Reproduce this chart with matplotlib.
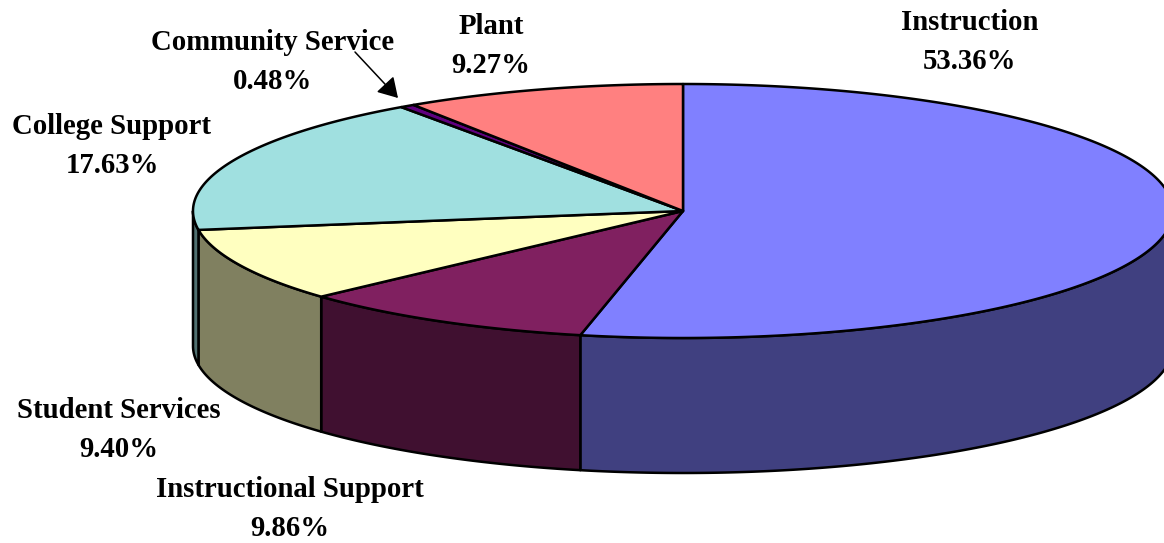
import numpy as np
import matplotlib
matplotlib.use("Agg")
import matplotlib.pyplot as plt

labels = ["Instruction", "Instructional Support", "Student Services",
          "College Support", "Community Service", "Plant"]
values = [53.36, 9.86, 9.40, 17.63, 0.48, 9.27]
top_colors = ["#8080FF", "#802060", "#FFFFC0", "#A0E0E0", "#600080", "#FF8080"]
side_colors = ["#404080", "#401030", "#808060", "#507070", "#300040", "#804040"]
label_pos = [(970, 42), (290, 509), (119, 430), (112, 146), (273, 62), (491, 46)]

CX, CY, RX, RY, DEPTH = 683.0, 211.0, 490.0, 127.0, 135.0

fig = plt.figure(figsize=(11.64, 5.43), dpi=100)
ax = fig.add_axes([0, 0, 1, 1])
ax.set_xlim(0, 1164)
ax.set_ylim(543, 0)
ax.axis("off")


def rim(a0, a1):
    t = np.radians(np.linspace(a0, a1, 300))
    return CX + RX * np.sin(t), CY - RY * np.cos(t)


edges = np.cumsum([0] + values) * 3.6
EC = "black"
LW = 1.8

# sides: only the front half (90..270 deg clockwise from top) is visible
for i in range(len(values)):
    a0, a1 = max(edges[i], 90), min(edges[i + 1], 270)
    if a1 <= a0:
        continue
    x, y = rim(a0, a1)
    ax.fill(np.r_[x, x[::-1]], np.r_[y, y[::-1] + DEPTH],
            fc=side_colors[i], ec=EC, lw=LW, joinstyle="round", zorder=2)

# top faces
for i in range(len(values)):
    x, y = rim(edges[i], edges[i + 1])
    ax.fill(np.r_[CX, x], np.r_[CY, y], fc=top_colors[i], ec=EC, lw=LW,
            joinstyle="round", zorder=3)

for name, v, (lx, ly) in zip(labels, values, label_pos):
    ax.text(lx, ly, f"{name}\n{v:.2f}%", ha="center", va="center",
            family="Liberation Serif", weight="bold", fontsize=20.7,
            linespacing=1.54, color="black", zorder=5)

ax.annotate("", xy=(398, 98), xytext=(355, 52),
            arrowprops=dict(arrowstyle="-|>,head_width=0.72,head_length=1.2",
                            mutation_scale=10, color="black", lw=1.1,
                            shrinkA=0, shrinkB=0),
            zorder=6)

fig.savefig("out.png", dpi=100)
